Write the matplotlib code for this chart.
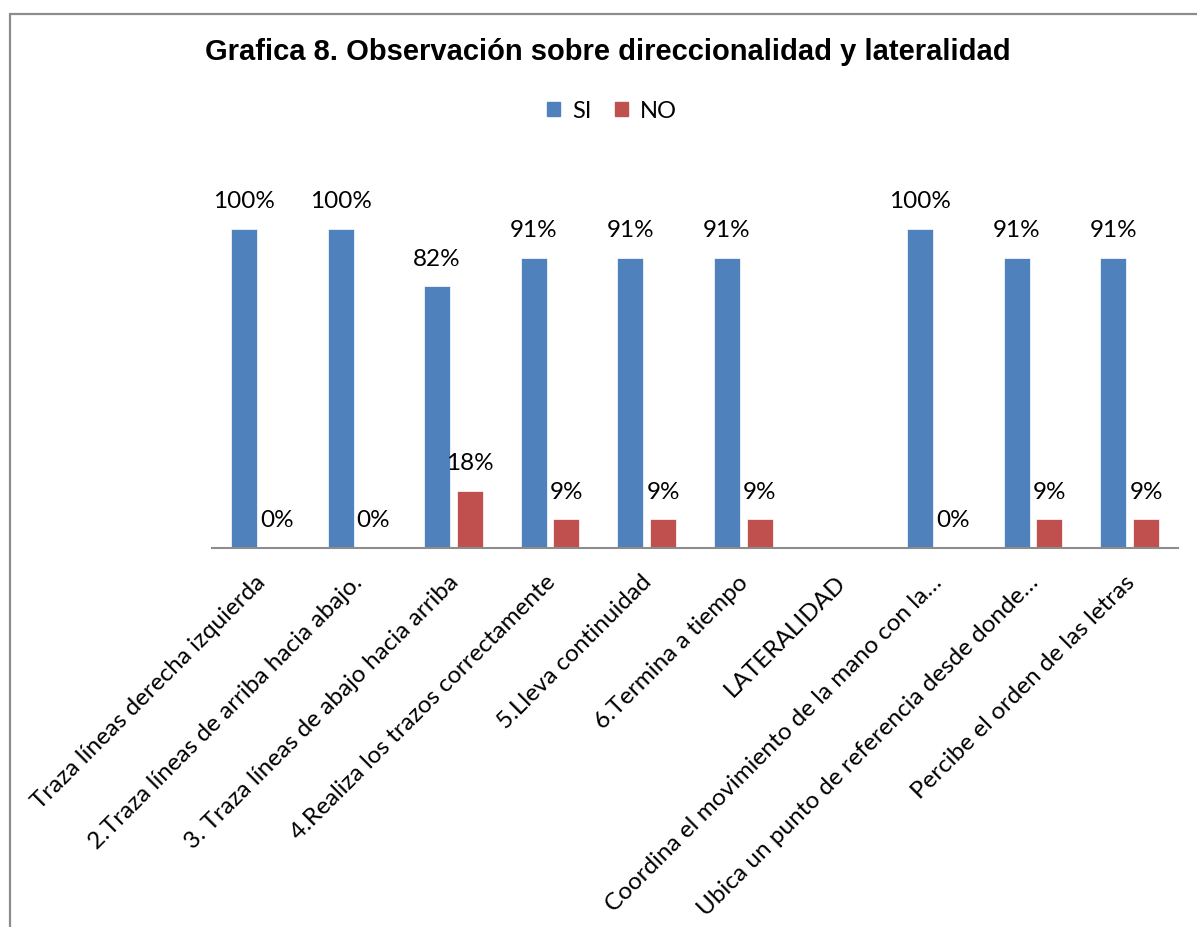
import numpy as np
import matplotlib
matplotlib.use("Agg")
import matplotlib.pyplot as plt
from matplotlib.patches import Patch, Rectangle

categories = [
    "Traza líneas derecha izquierda",
    "2.Traza líneas de arriba hacia abajo.",
    "3. Traza líneas de abajo hacia arriba",
    "4.Realiza los trazos correctamente",
    "5.Lleva continuidad",
    "6.Termina a tiempo",
    "LATERALIDAD",
    "Coordina el movimiento de la mano con la…",
    "Ubica un punto de referencia desde donde…",
    "Percibe el orden de las letras",
]
si = [100, 100, 82, 91, 91, 91, np.nan, 100, 91, 91]
no = [0, 0, 18, 9, 9, 9, np.nan, 0, 9, 9]

BLUE = "#4F81BD"
RED = "#C0504D"
GRAY = "#8C8C8C"
FONT = "Lato"

W, H = 1197, 927
fig = plt.figure(figsize=(W / 100, H / 100), dpi=100)

# outer chart border (cut off at right and bottom)
fig.patches.append(Rectangle((9.5 / W, -0.1), 1.2, 1.1 - 13.5 / H,
                             transform=fig.transFigure, fill=False,
                             edgecolor=GRAY, linewidth=1.6))

ax = fig.add_axes([212 / W, (H - 548) / H, 966 / W, 383 / H])
x = np.arange(len(categories))
off, bw = 0.169, 0.27
b1 = ax.bar(x - off, si, bw, color=BLUE, edgecolor="white", linewidth=0.5)
b2 = ax.bar(x + off, no, bw, color=RED, edgecolor="white", linewidth=0.5)
ax.set_xlim(-0.5, len(categories) - 0.5)
ax.set_ylim(0, 120)

for bars, vals in ((b1, si), (b2, no)):
    for rect, v in zip(bars, vals):
        if np.isnan(v):
            continue
        ax.annotate(f"{v:.0f}%", (rect.get_x() + rect.get_width() / 2, v),
                    xytext=(0, 19.5), textcoords="offset points",
                    ha="center", va="center", fontsize=17.5, family=FONT,
                    annotation_clip=False)

for s in ("top", "right", "left"):
    ax.spines[s].set_visible(False)
ax.spines["bottom"].set_color(GRAY)
ax.spines["bottom"].set_linewidth(1.5)
ax.set_yticks([])
ax.set_xticks([])

for i, lab in enumerate(categories):
    ax.annotate(lab, (i, 0), xycoords=("data", "axes fraction"),
                xytext=(-4, -17), textcoords="offset points",
                rotation=45, rotation_mode="anchor", ha="right", va="top",
                fontsize=17.5, family=FONT, annotation_clip=False)

fig.text(608 / W, 1 - 52 / H,
         "Grafica 8. Observación sobre direccionalidad y lateralidad",
         ha="center", va="center", fontsize=21, fontweight="bold",
         family="Liberation Sans")

handles = [Patch(color=BLUE, label="SI"), Patch(color=RED, label="NO")]
fig.legend(handles=handles, loc="center", bbox_to_anchor=(612 / W, 1 - 111 / H),
           ncol=2, frameon=False, handlelength=0.55, handleheight=0.55,
           handletextpad=0.5, columnspacing=1.0,
           prop={"family": FONT, "size": 17})

fig.savefig("out.png", dpi=100)
